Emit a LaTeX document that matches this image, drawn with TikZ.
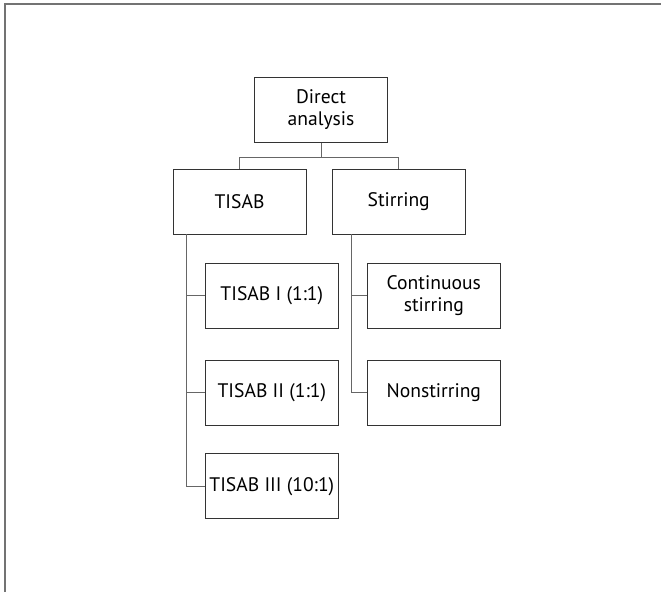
\documentclass[tikz,border=0pt]{standalone}
\usepackage{fontspec}
\setmainfont{PT Sans}
\usetikzlibrary{calc}
\newcommand{\BoxW}{133pt}
\newcommand{\BoxH}{65pt}
\tikzset{Box/.style={
    inner sep=0pt,
    minimum width=\BoxW,
    minimum height=\BoxH,
    draw=black!80,
    line width=1pt,
    align=center,
    font=\fontsize{19.6}{22}\selectfont,
    },
    Link/.style={draw=black!60, line width=1pt},
    Frame/.style={draw=black!55, line width=1.6pt}
}

\begin{document}
\begin{tikzpicture}[x=1pt,y=-1pt]
    \useasboundingbox (0,0) rectangle (661,592);
    \draw [Frame] (4.8,592) -- (4.8,4.2) -- (661,4.2);
    % top levels
    \node [Box] (direct) at (321,109.5) {Direct\\analysis};
    \node [Box] (tisab) at (239.5,201.8) {TISAB};
    \node [Box] (stirring) at (398.7,201.8) {Stirring};
    % TISAB ratios
    \node [Box] (tisabI) at (271.8,295.8) {TISAB I (1:1)};
    \node [Box] (tisabII) at (271.8,392.8) {TISAB II (1:1)};
    \node [Box] (tisabIII) at (271.8,486.2) {TISAB III (10:1)};
    % stirring modes
    \node [Box] (contin) at (433.8,295.8) {Continuous\\stirring};
    \node [Box] (nonstir) at (433.8,392.8) {Nonstirring};
    % links
    \coordinate (split) at (321,157.3);
    \coordinate (ttrunk) at (186.7,234.3);
    \coordinate (strunk) at (351,234.3);
    \draw [Link] (direct.south) -- (split);
    \draw [Link] (tisab.north) |- (split) -| (stirring.north);
    \draw [Link] (ttrunk) |- (tisabIII.west);
    \draw [Link] (ttrunk |- tisabI.west) -- (tisabI.west);
    \draw [Link] (ttrunk |- tisabII.west) -- (tisabII.west);
    \draw [Link] (strunk) |- (nonstir.west);
    \draw [Link] (strunk |- contin.west) -- (contin.west);
\end{tikzpicture}
\end{document}
